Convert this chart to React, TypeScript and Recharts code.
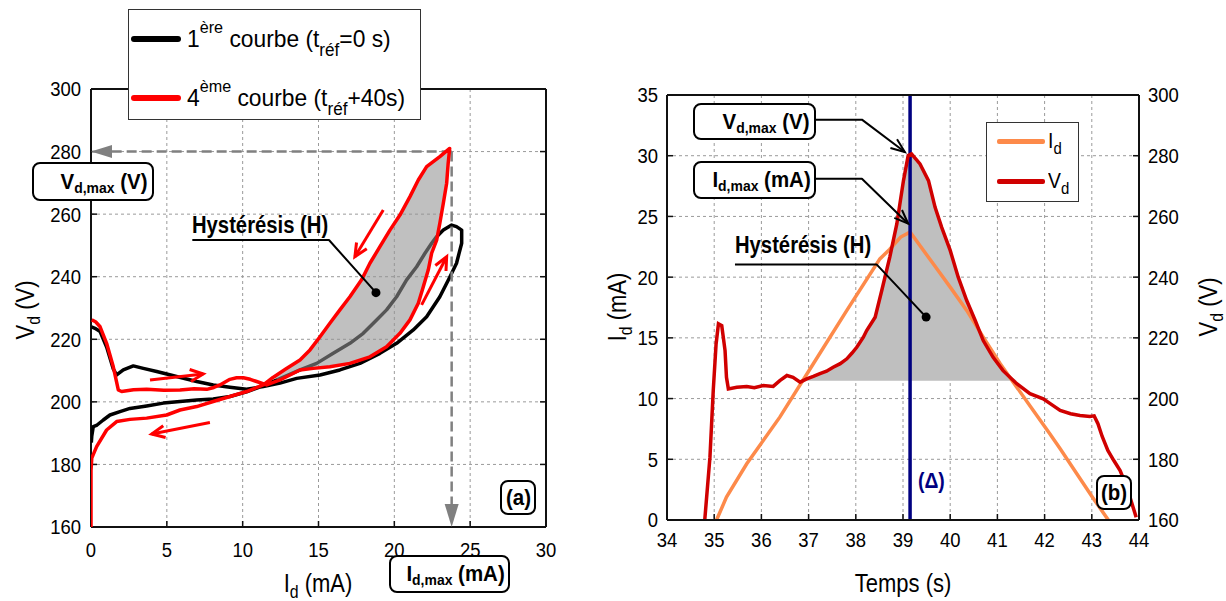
import React from 'react';
import {
  ComposedChart, Scatter, Line, Area, XAxis, YAxis, CartesianGrid, ReferenceLine, ReferenceDot,
} from 'recharts';

const FONT = "'Liberation Sans',Arial,'DejaVu Sans',sans-serif";
const SX = 0.88; // horizontal squeeze giving the narrow look of the original lettering

type P = { x: number; y: number };
const pts = (a: number[][]): P[] => a.map(([x, y]) => ({ x, y }));

// ---------- Chart (a): Vd vs Id ----------
const aXTicks = [0, 5, 10, 15, 20, 25, 30];
const aYTicks = [160, 180, 200, 220, 240, 260, 280, 300];

// 1st curve (t_ref = 0 s), black
const curve1 = pts([
  [0.02, 224], [0.26, 223.5], [0.6, 222.5], [1.03, 217.5], [1.47, 210.5], [1.69, 208.6], [2.13, 210.2], [2.79, 211.5], [3.45, 210.7],
  [4.33, 209.7], [4.99, 208.9], [5.9, 207.8], [6.97, 206.5], [8.06, 205.4], [9.16, 204.7], [10.26, 204.0],
  [11.36, 204.9], [12.46, 206.0], [13.56, 207.5], [15.1, 208.6], [16.41, 210.2], [17.73, 212.3], [19.05, 215.5],
  [20.15, 218.7], [21.25, 223.0], [22.13, 227.2], [23.0, 233.6], [23.67, 240.0], [24.1, 244.3], [24.44, 250.7],
  [24.44, 254.9], [24.1, 256.0], [23.78, 256.5], [23.23, 254.9], [22.79, 252.8], [22.46, 250.7], [22.02, 247.5],
  [21.47, 243.2], [20.81, 239.0], [20.15, 233.6], [19.49, 229.4], [18.83, 226.2], [17.95, 221.9], [17.07, 218.7],
  [15.97, 215.5], [14.88, 212.3], [13.78, 210.2], [12.5, 207.5], [11.3, 205.0], [10.26, 203.2], [9.16, 201.7],
  [8.06, 200.9], [6.97, 200.6], [5.87, 200.1], [4.77, 199.6], [3.67, 198.7], [2.57, 197.9], [1.91, 196.9],
  [1.25, 195.8], [0.81, 194.2], [0.4, 192.6], [0.15, 192.1], [0.05, 189], [0.02, 187],
]);

// 4th curve (t_ref + 40 s), red, split in branches
const red4UpperLow = pts([
  [0.05, 226.2], [0.3, 225.6], [0.6, 224.0], [1.03, 218.7], [1.47, 211.2], [1.8, 203.8], [2.02, 203.3],
  [2.8, 203.9], [3.67, 204.0], [4.8, 203.7], [5.87, 203.8], [6.8, 204.2], [7.63, 204.0], [8.1, 204.6],
  [8.5, 205.4], [9.16, 207.2], [9.6, 207.7], [10.04, 207.7], [10.5, 207.2], [10.92, 206.5], [11.58, 205.4],
]);
const red4LoopRise = pts([
  [12.46, 207.0], [13.78, 210.2], [14.66, 210.7], [15.75, 211.2], [17.07, 212.3], [18.39, 214.4], [19.49, 217.6],
  [20.37, 221.9], [21.03, 226.2], [21.58, 231.5], [21.91, 236.8], [22.24, 242.2], [22.46, 247.5], [22.79, 251.7],
  [23.0, 257.1], [23.23, 263.5], [23.45, 269.9], [23.55, 276.3], [23.65, 281.0],
]);
const red4LoopFall = pts([
  [23.0, 278.4], [22.13, 275.2], [21.58, 270.9], [21.03, 265.6], [20.37, 259.7], [19.71, 254.9], [19.05, 249.6],
  [18.39, 244.3], [17.84, 239.0], [17.07, 233.6], [16.41, 229.4], [15.75, 225.1], [15.1, 220.8], [14.44, 216.6],
  [13.78, 213.4], [12.84, 210.5], [12.0, 207.8],
]);
const red4LowerLow = pts([
  [11.36, 205.4], [10.26, 203.3], [9.16, 201.7], [8.06, 200.1], [6.97, 198.5], [5.87, 197.4], [4.99, 195.8],
  [3.67, 194.8], [2.57, 194.4], [1.69, 193.7], [1.03, 191.0], [0.37, 185.7], [0.05, 182.0], [0, 178.0], [0, 160.0],
]);
const curve4 = [...red4UpperLow, ...red4LoopRise, ...red4LoopFall, ...red4LowerLow];
const hysteresisA = [...red4LoopRise, ...red4LoopFall];

const idMaxA = 23.78;
const vdMaxA = 280;
const vdMaxGuide = pts([[idMaxA, vdMaxA], [0, vdMaxA]]);
const idMaxGuide = pts([[idMaxA, vdMaxA], [idMaxA, 160]]);
const arrowA1 = pts([[19.27, 261.3], [17.4, 246.4]]);
const arrowA2 = pts([[21.8, 231.0], [23.45, 246.4]]);
const arrowA3 = pts([[3.89, 207.0], [7.4, 208.9]]);
const arrowA4 = pts([[7.84, 193.4], [4.0, 189.7]]);
const leaderA = pts([[6.68, 251.74], [15.69, 251.74], [18.79, 234.9]]);

// ---------- Chart (b): Id, Vd vs time ----------
const bXTicks = [34, 35, 36, 37, 38, 39, 40, 41, 42, 43, 44];
const bITicks = [0, 5, 10, 15, 20, 25, 30, 35];
const bVTicks = [160, 180, 200, 220, 240, 260, 280, 300];

const idTime = [35.05, 35.26, 35.69, 36.39, 37.1, 37.81, 38.51, 38.72, 38.95, 39.15, 39.64, 40.0, 40.35, 40.7, 41.06, 41.41, 41.76, 42.11, 42.33, 42.7, 43.0, 43.35];
const idValues = [0, 1.88, 4.63, 8.47, 12.87, 17.26, 21.5, 22.3, 23.3, 23.71, 21.1, 19.18, 17.26, 15.06, 12.87, 10.94, 9.02, 7.1, 5.86, 3.7, 1.95, 0];

const vdTime = [34.8, 34.91, 34.98, 35.04, 35.09, 35.16, 35.23, 35.26, 35.3, 35.48, 35.69, 35.85, 36.04, 36.25, 36.39, 36.54, 36.67, 36.82, 36.96, 37.1, 37.24, 37.38, 37.52, 37.67, 37.81, 37.92, 38.02, 38.16, 38.23, 38.41, 38.55, 38.72, 38.87, 39.01, 39.11, 39.18, 39.36, 39.54, 39.68, 39.82, 40.0, 40.17, 40.35, 40.53, 40.7, 40.91, 41.12, 41.41, 41.69, 41.97, 42.15, 42.33, 42.55, 42.75, 42.96, 43.05, 43.13, 43.22, 43.34, 43.47, 43.6, 43.75, 43.94];
const vdValues = [160, 180.7, 202.7, 218, 224.6, 224, 215.8, 207, 203.2, 203.7, 204.0, 203.6, 204.3, 204.0, 205.9, 207.6, 207.0, 205.4, 206.5, 207.3, 208.2, 209.0, 210.3, 211.5, 213.1, 215.0, 216.9, 220.2, 222.4, 226.8, 235.6, 246.6, 257.6, 271.8, 280.1, 280.6, 277.3, 271.8, 263.0, 256.4, 248.8, 240.0, 232.3, 225.7, 219.1, 213.6, 209.2, 204.9, 201.6, 199.9, 198.0, 196.1, 195.0, 194.4, 194.1, 194.3, 191.7, 187.5, 182.9, 179.5, 176.3, 170.5, 160.9];

const VD_BASE = 205.9; // lower edge of the hysteresis area (b)
const HYST_START = 36.96;
const HYST_END = 41.41;
const T_PEAK = 39.15;

const idData = idTime.map((t, k) => ({ t, i: idValues[k] }));
const vdData = vdTime.map((t, k) => ({ t, v: vdValues[k] }));
const fillB = vdData
  .filter((d) => d.t >= HYST_START && d.t <= HYST_END)
  .map((d) => ({ t: d.t, v: Math.max(d.v, VD_BASE) }));

const tp = (a: number[][]) => a.map(([t, y]) => ({ t, y }));
const leaderVd = tp([[37.1, 32.97], [38.13, 32.97], [39.04, 30.3]]);
const leaderId = tp([[37.11, 28.11], [38.13, 28.11], [39.11, 24.4]]);
const leaderHB = tp([[35.44, 21.05], [38.44, 21.05], [39.49, 16.71]]);

// ---------- helpers ----------
const noShape = () => <g />;
const emptyTick = () => <g />;
const axisStyle = { stroke: '#111', strokeWidth: 2 };
const tickLineStyle = { stroke: '#111', strokeWidth: 1.5 };

function NarrowTick(props: any) {
  const { x, y, payload, textAnchor, verticalAnchor } = props;
  const dy = verticalAnchor === 'start' ? '0.71em' : verticalAnchor === 'end' ? '0' : '0.355em';
  return (
    <text x={x} y={y} dy={dy} textAnchor={textAnchor} fill="#000" fontSize={21} fontFamily={FONT}
      transform={`translate(${x} ${y}) scale(${SX} 1) translate(${-x} ${-y})`}>
      {payload.value}
    </text>
  );
}
const tickEl = (p: any) => <NarrowTick {...p} />;

type LineOpts = { color: string; width: number; dash?: string; head?: 'open' | 'filled' | 'none'; len?: number; half?: number };
function pathLine(o: LineOpts) {
  return (props: any) => {
    const p: P[] = (props.points || []).filter((q: any) => q && isFinite(q.x) && isFinite(q.y));
    if (p.length < 2) return <g />;
    const head = o.head || 'none';
    const len = o.len ?? 14;
    const half = o.half ?? 6;
    const a = p[p.length - 2];
    const b = p[p.length - 1];
    const L = Math.hypot(b.x - a.x, b.y - a.y) || 1;
    const ux = (b.x - a.x) / L;
    const uy = (b.y - a.y) / L;
    const bx = b.x - ux * len;
    const by = b.y - uy * len;
    const lx = bx - uy * half, ly = by + ux * half;
    const rx = bx + uy * half, ry = by - ux * half;
    const body = head === 'filled' ? [...p.slice(0, -1), { x: bx, y: by }] : p;
    const d = body.map((q, k) => `${k ? 'L' : 'M'}${q.x},${q.y}`).join(' ');
    return (
      <g>
        <path d={d} fill="none" stroke={o.color} strokeWidth={o.width} strokeDasharray={o.dash} strokeLinejoin="round" />
        {head === 'open' && (
          <path d={`M${lx},${ly} L${b.x},${b.y} L${rx},${ry}`} fill="none" stroke={o.color} strokeWidth={o.width} />
        )}
        {head === 'filled' && <polygon points={`${lx},${ly} ${b.x},${b.y} ${rx},${ry}`} fill={o.color} />}
      </g>
    );
  };
}

function ChartA() {
  const common = { xAxisId: 'b', yAxisId: 'l', dataKey: 'y', shape: noShape, isAnimationActive: false, legendType: 'none' as const };
  return (
    <ComposedChart width={560} height={601} margin={{ top: 88, right: 13, bottom: 34, left: 31 }}>
      <CartesianGrid xAxisId="b" yAxisId="l" stroke="#9a9a9a" strokeDasharray="3 3" strokeWidth={1} />
      <XAxis xAxisId="b" dataKey="x" type="number" domain={[0, 30]} ticks={aXTicks} interval={0} height={40}
        tickSize={-6} tickMargin={21} tick={tickEl} axisLine={axisStyle} tickLine={tickLineStyle} allowDataOverflow />
      <XAxis xAxisId="t" orientation="top" type="number" domain={[0, 30]} ticks={aXTicks} interval={0} height={1}
        tickSize={-6} tick={emptyTick} axisLine={axisStyle} tickLine={tickLineStyle} allowDataOverflow />
      <YAxis yAxisId="l" type="number" domain={[160, 300]} ticks={aYTicks} interval={0} width={60}
        tickSize={-6} tickMargin={16} tick={tickEl} axisLine={axisStyle} tickLine={tickLineStyle} allowDataOverflow />
      <YAxis yAxisId="r" orientation="right" type="number" domain={[160, 300]} ticks={aYTicks} interval={0} width={1}
        tickSize={-6} tick={emptyTick} axisLine={axisStyle} tickLine={tickLineStyle} allowDataOverflow />

      <Scatter {...common} data={curve1} fill="none" line={{ stroke: '#000', strokeWidth: 3.5, strokeLinejoin: 'round' }} lineType="joint" />
      <Scatter {...common} data={hysteresisA} fill="none" line={{ stroke: 'none', fill: '#929292', fillOpacity: 0.58 }} lineType="joint" />
      <Scatter {...common} data={vdMaxGuide} fill="none" line={pathLine({ color: '#808080', width: 2.5, dash: '10 5', head: 'filled', len: 21, half: 6.5 })} lineType="joint" />
      <Scatter {...common} data={idMaxGuide} fill="none" line={pathLine({ color: '#808080', width: 2.5, dash: '10 5', head: 'filled', len: 23, half: 7 })} lineType="joint" />
      <Scatter {...common} data={curve4} fill="none" line={{ stroke: '#ff0000', strokeWidth: 3.5, strokeLinejoin: 'round' }} lineType="joint" />
      <Scatter {...common} data={arrowA1} fill="none" line={pathLine({ color: '#ff0000', width: 3, head: 'open', len: 13, half: 6 })} lineType="joint" />
      <Scatter {...common} data={arrowA2} fill="none" line={pathLine({ color: '#ff0000', width: 3, head: 'open', len: 13, half: 6 })} lineType="joint" />
      <Scatter {...common} data={arrowA3} fill="none" line={pathLine({ color: '#ff0000', width: 3, head: 'open', len: 13, half: 6 })} lineType="joint" />
      <Scatter {...common} data={arrowA4} fill="none" line={pathLine({ color: '#ff0000', width: 3, head: 'open', len: 13, half: 6 })} lineType="joint" />
      <Scatter {...common} data={leaderA} fill="none" line={pathLine({ color: '#000', width: 2 })} lineType="joint" />
      <ReferenceDot xAxisId="b" yAxisId="l" x={leaderA[2].x} y={leaderA[2].y} r={4.5} fill="#000" stroke="none" />
    </ComposedChart>
  );
}

function ChartB() {
  const lead = { xAxisId: 'b', yAxisId: 'i', dataKey: 'y', shape: noShape, isAnimationActive: false, legendType: 'none' as const, fill: 'none', lineType: 'joint' as const };
  return (
    <ComposedChart width={646} height={601} margin={{ top: 94, right: 27, bottom: 41, left: 27 }}>
      <CartesianGrid xAxisId="b" yAxisId="i" stroke="#9a9a9a" strokeDasharray="3 3" strokeWidth={1} />
      <XAxis xAxisId="b" dataKey="t" type="number" domain={[34, 44]} ticks={bXTicks} interval={0} height={40}
        tickSize={-6} tickMargin={18} tick={tickEl} axisLine={axisStyle} tickLine={tickLineStyle} allowDataOverflow />
      <XAxis xAxisId="t" orientation="top" type="number" domain={[34, 44]} ticks={bXTicks} interval={0} height={1}
        tickSize={-6} tick={emptyTick} axisLine={axisStyle} tickLine={tickLineStyle} allowDataOverflow />
      <YAxis yAxisId="i" type="number" domain={[0, 35]} ticks={bITicks} interval={0} width={60}
        tickSize={-6} tickMargin={15} tick={tickEl} axisLine={axisStyle} tickLine={tickLineStyle} allowDataOverflow />
      <YAxis yAxisId="v" orientation="right" type="number" domain={[160, 300]} ticks={bVTicks} interval={0} width={60}
        tickSize={-6} tickMargin={15} tick={tickEl} axisLine={axisStyle} tickLine={tickLineStyle} allowDataOverflow />

      <Area xAxisId="b" yAxisId="v" data={fillB} dataKey="v" type="linear" baseValue={VD_BASE}
        fill="#bfbfbf" fillOpacity={1} stroke="none" isAnimationActive={false} legendType="none" />
      <Line xAxisId="b" yAxisId="i" data={idData} dataKey="i" type="linear" stroke="#fd8a4a" strokeWidth={3.5}
        dot={false} activeDot={false} isAnimationActive={false} legendType="none" />
      <ReferenceLine xAxisId="b" yAxisId="i" x={T_PEAK} stroke="#000080" strokeWidth={3.5} />
      <Line xAxisId="b" yAxisId="v" data={vdData} dataKey="v" type="linear" stroke="#d00000" strokeWidth={3.5}
        dot={false} activeDot={false} isAnimationActive={false} legendType="none" />
      <Scatter {...lead} data={leaderVd} line={pathLine({ color: '#000', width: 2, head: 'open', len: 14, half: 5.5 })} />
      <Scatter {...lead} data={leaderId} line={pathLine({ color: '#000', width: 2, head: 'open', len: 14, half: 5.5 })} />
      <Scatter {...lead} data={leaderHB} line={pathLine({ color: '#000', width: 2 })} />
      <ReferenceDot xAxisId="b" yAxisId="i" x={leaderHB[2].t} y={leaderHB[2].y} r={4.5} fill="#000" stroke="none" />
    </ComposedChart>
  );
}

const Narrow = ({ children, origin = 'left center', sx = SX }: { children: React.ReactNode; origin?: string; sx?: number }) => (
  <span style={{ display: 'inline-block', transform: `scaleX(${sx})`, transformOrigin: origin }}>{children}</span>
);

const Sub = ({ children, size = 18, drop = 6 }: { children: React.ReactNode; size?: number; drop?: number }) => (
  <span style={{ fontSize: size, position: 'relative', top: drop }}>{children}</span>
);
const Sup = ({ children, size = 17, rise = 14 }: { children: React.ReactNode; size?: number; rise?: number }) => (
  <span style={{ fontSize: size, position: 'relative', top: -rise }}>{children}</span>
);

function NoteBox({ left, top, width, height, children, justify = 'flex-end', pad = 4, size = 22 }: any) {
  return (
    <div style={{
      position: 'absolute', left, top, width, height, boxSizing: 'border-box', border: '2px solid #000',
      borderRadius: 8, background: '#fff', display: 'flex', alignItems: 'center', justifyContent: justify,
      paddingRight: pad, fontWeight: 'bold', fontSize: size, whiteSpace: 'nowrap', lineHeight: 1,
    }}>
      <Narrow origin={justify === 'center' ? 'center' : 'right center'} sx={0.93}>{children}</Narrow>
    </div>
  );
}

function Title({ cx, cy, rotate = false, children }: any) {
  return (
    <div style={{
      position: 'absolute', left: cx, top: cy, fontSize: 25, whiteSpace: 'nowrap', lineHeight: 1,
      transform: `translate(-50%, -50%)${rotate ? ' rotate(-90deg)' : ''} scaleX(${SX})`,
    }}>
      {children}
    </div>
  );
}

const absText = (left: number, top: number, extra: React.CSSProperties = {}): React.CSSProperties => ({
  position: 'absolute', left, top, whiteSpace: 'nowrap', lineHeight: 1, ...extra,
});

export default function App() {
  return (
    <div style={{ position: 'absolute', left: 0, top: 0, width: 1226, height: 601, background: '#fff', overflow: 'hidden', fontFamily: FONT, color: '#000' }}>
      <div style={{ position: 'absolute', left: 0, top: 0 }}><ChartA /></div>
      <div style={{ position: 'absolute', left: 580, top: 0 }}><ChartB /></div>

      {/* Chart (a) texts */}
      <Title cx={318} cy={583}>I<Sub>d</Sub> (mA)</Title>
      <Title cx={25} cy={310} rotate>V<Sub>d</Sub> (V)</Title>

      <div style={{ position: 'absolute', left: 128, top: 9, width: 293, height: 111, boxSizing: 'border-box', border: '1px solid #333', background: '#fff' }}>
        <div style={{ position: 'absolute', left: 2, top: 26.3, width: 50, height: 6, background: '#000', borderRadius: 3 }} />
        <div style={absText(58, 17, { fontSize: 24 })}>
          <Narrow sx={0.95}>1<Sup>ère</Sup> courbe (t<Sub size={18} drop={9}>réf</Sub>=0 s)</Narrow>
        </div>
        <div style={{ position: 'absolute', left: 2, top: 84.7, width: 50, height: 6, background: '#ff0000', borderRadius: 3 }} />
        <div style={absText(58, 75.5, { fontSize: 24 })}>
          <Narrow sx={0.95}>4<Sup>ème</Sup> courbe (t<Sub size={18} drop={9}>réf</Sub>+40s)</Narrow>
        </div>
      </div>

      <NoteBox left={32} top={162} width={122} height={39} pad={5}>V<Sub size={15} drop={4}>d,max</Sub>&nbsp;(V)</NoteBox>
      <NoteBox left={389} top={555} width={121} height={38} pad={3}>I<Sub size={15} drop={4}>d,max</Sub>&nbsp;(mA)</NoteBox>
      <NoteBox left={500} top={480} width={36} height={35} justify="center" pad={0}>(a)</NoteBox>
      <div style={absText(192, 214.4, { fontSize: 23, fontWeight: 'bold' })}><Narrow>Hystérésis (H)</Narrow></div>

      {/* Chart (b) texts */}
      <Title cx={903} cy={583}>Temps (s)</Title>
      <Title cx={617} cy={307} rotate>I<Sub>d</Sub> (mA)</Title>
      <Title cx={1208} cy={307} rotate>V<Sub>d</Sub> (V)</Title>

      <div style={{ position: 'absolute', left: 986, top: 122, width: 93, height: 80, boxSizing: 'border-box', border: '1px solid #333', background: '#fff' }}>
        <div style={{ position: 'absolute', left: 10, top: 15.5, width: 48, height: 5, background: '#fd8a4a', borderRadius: 2 }} />
        <div style={absText(61, 7, { fontSize: 22 })}><Narrow>I<Sub size={17} drop={6}>d</Sub></Narrow></div>
        <div style={{ position: 'absolute', left: 10, top: 56, width: 48, height: 5, background: '#d00000', borderRadius: 2 }} />
        <div style={absText(61, 47, { fontSize: 22 })}><Narrow>V<Sub size={17} drop={6}>d</Sub></Narrow></div>
      </div>

      <NoteBox left={693} top={103} width={123} height={37} pad={5}>V<Sub size={15} drop={4}>d,max</Sub>&nbsp;(V)</NoteBox>
      <NoteBox left={693} top={161} width={123} height={38} pad={3}>I<Sub size={15} drop={4}>d,max</Sub>&nbsp;(mA)</NoteBox>
      <NoteBox left={1096} top={475} width={36} height={35} justify="center" pad={0}>(b)</NoteBox>
      <div style={absText(735, 234.4, { fontSize: 23, fontWeight: 'bold' })}><Narrow>Hystérésis (H)</Narrow></div>
      <div style={absText(918, 470, { fontSize: 22, fontWeight: 'bold', color: '#000080' })}><Narrow>(Δ)</Narrow></div>
    </div>
  );
}
